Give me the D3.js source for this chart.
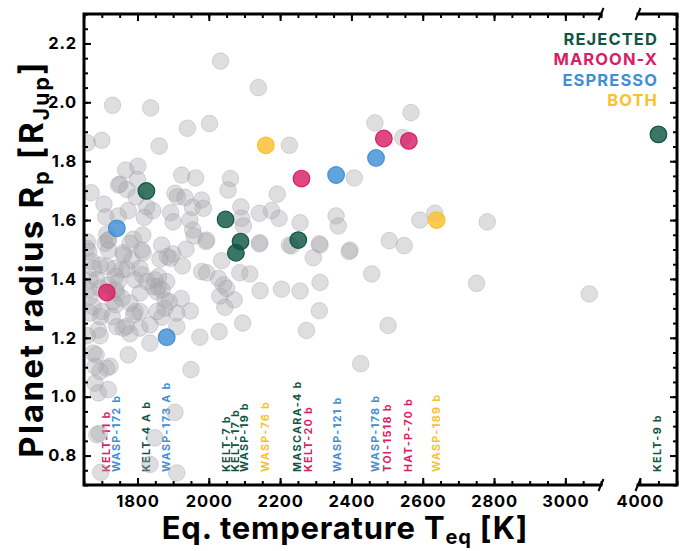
<!DOCTYPE html>
<html>
<head>
<meta charset="utf-8">
<script src="https://cdn.jsdelivr.net/npm/d3@7"></script>
<style>
  body { margin: 0; background: #fff; }
  svg { display: block; font-family: Inter, "DejaVu Sans", sans-serif; font-weight: 700; }
</style>
</head>
<body>
<svg id="chart" width="686" height="551"></svg>
<script>
// grey background population: equilibrium temperature [K] and radius [R_Jup]
const greyTeq = [2033,2139,1730,1837,1940,2002,1700,1659,1861,2226,2466,1767,1801,1751,1800,1770,1670,1796,1706,1711,
  1774,1826,1843,1819,1746,1924,1963,2061,2054,1905,1912,1933,1980,1954,1985,1893,1900,1947,1955,1959,
  1994,1868,1788,1815,1714,1718,1659,2090,2092,2097,2142,2176,2197,2192,2143,2256,2226,2312,2357,2363,
  2408,2396,2567,2544,2592,2634,2781,2506,2548,2457,2751,3067,2503,2310,2394,2293,2312,2310,2274,2426,
  2256,2204,2144,2232,2142,2115,2087,2095,2029,1975,1950,2071,2045,2031,2050,2041,2027,2036,1980,1994,
  1992,1936,1926,1910,1910,1905,1910,1849,1835,1884,1899,1863,1774,1684,1681,1714,1723,1681,1690,1718,
  1693,1697,1835,1779,1807,1760,1742,1690,1695,1659,1868,1877,1854,1858,1849,1882,1877,1854,1835,1807,
  1793,1779,1807,1812,1816,1760,1784,1807,1770,1756,1737,1714,1695,1672,1667,1667,1676,1667,1732,1742,
  1718,1695,1746,1709,1718,1779,1658,1719,1663,1761,1892,1948,1923,1859,1889,1677,1738,1686,1663,1738,
  1757,1738,1700,1696,1729,1789,1769,1793,1813,1827,1845,1869,1747,1676,1695,1686];
const greyR = [2.140,2.050,1.990,1.981,1.912,1.928,1.871,1.862,1.851,1.854,1.930,1.770,1.783,1.722,1.738,1.704,1.693,1.679,1.654,1.611,
  1.632,1.645,1.632,1.609,1.614,1.753,1.743,1.741,1.702,1.691,1.679,1.677,1.668,1.643,1.640,1.625,1.594,1.600,1.566,1.546,
  1.532,1.515,1.535,1.549,1.552,1.532,1.526,1.645,1.606,1.580,1.623,1.632,1.606,1.688,1.523,1.591,1.515,1.515,1.614,1.580,
  1.743,1.498,1.965,1.880,1.600,1.623,1.594,1.530,1.513,1.417,1.385,1.349,1.242,1.519,1.493,1.472,1.388,1.292,1.225,1.112,
  1.359,1.365,1.360,1.512,1.519,1.417,1.421,1.250,1.221,1.202,1.092,1.329,1.304,1.342,1.368,1.380,1.402,1.462,1.425,1.421,
  1.527,1.501,1.444,1.284,1.238,0.947,0.741,0.860,0.770,1.476,1.485,1.467,1.142,1.142,1.103,1.097,1.103,1.046,1.013,1.024,
  0.875,0.743,1.182,1.214,1.233,1.233,1.238,1.227,1.207,1.207,1.270,1.329,1.357,1.374,1.397,1.391,1.301,1.289,1.244,1.289,
  1.289,1.318,1.352,1.498,1.489,1.489,1.464,1.436,1.433,1.431,1.436,1.442,1.447,1.459,1.397,1.340,1.306,1.284,1.323,1.352,
  1.380,1.369,1.391,1.521,1.532,1.521,1.504,1.498,1.493,1.482,1.470,1.291,1.333,1.408,1.323,1.436,1.408,1.397,1.363,1.363,
  1.335,1.312,1.289,1.272,1.272,1.278,1.238,1.397,1.414,1.391,1.374,1.363,1.719,1.148,1.086,0.871];

// highlighted planets
const planetNames = ["KELT-11 b","WASP-172 b","KELT-4 A b","WASP-173 A b","KELT-7 b","KELT-17 b","WASP-19 b","WASP-76 b",
  "MASCARA-4 b","KELT-20 b","WASP-121 b","WASP-178 b","TOI-1518 b","HAT-P-70 b","WASP-189 b","KELT-9 b"];
const planetGroup = ["MAROON-X","ESPRESSO","REJECTED","ESPRESSO","REJECTED","REJECTED","REJECTED","BOTH",
  "REJECTED","MAROON-X","ESPRESSO","ESPRESSO","MAROON-X","MAROON-X","BOTH","REJECTED"];
const planetTeq = [1714,1742,1825,1882,2047,2089,2076,2160,2251,2260,2357,2469,2491,2561,2639,4050];
const planetR = [1.354,1.572,1.699,1.202,1.602,1.527,1.489,1.854,1.532,1.741,1.753,1.811,1.877,1.869,1.600,1.891];
const labelTeq = [1712,1740,1823,1880,2047,2073,2099,2158,2247,2278,2359,2466,2499,2558,2636,4047];

const groups = ["REJECTED","MAROON-X","ESPRESSO","BOTH"];
const groupColors = ["#0f5744","#d81e66","#3f8ed6","#fbc02d"];

const leftTicks = [1800,2000,2200,2400,2600,2800,3000];
const rightTicks = [4000];
const yTicks = [0.8,1.0,1.2,1.4,1.6,1.8,2.0,2.2];

const svg = d3.select("#chart");
const yTop = 14, yBot = 485;
const xL = d3.scaleLinear().domain([1650, 3100]).range([84, 601]);
const xR = d3.scaleLinear().domain([3995, 4100]).range([638, 677]);
const y = d3.scaleLinear().domain([0.7, 2.3]).range([yBot, yTop]);
const color = d3.scaleOrdinal().domain(groups).range(groupColors);
const xOf = t => t > 3500 ? xR(t) : xL(t);

const defs = svg.append("defs");
defs.append("clipPath").attr("id", "clipL").append("rect")
  .attr("x", 84).attr("y", yTop).attr("width", 601 - 84).attr("height", yBot - yTop);
defs.append("clipPath").attr("id", "clipR").append("rect")
  .attr("x", 638).attr("y", yTop).attr("width", 677 - 638).attr("height", yBot - yTop);

// planet labels
const labels = svg.append("g").attr("font-size", 10.8).attr("letter-spacing", 1.3);
planetNames.forEach((n, i) => {
  labels.append("text")
    .attr("transform", `translate(${xOf(labelTeq[i]) + 4},472) rotate(-90)`)
    .attr("fill", color(planetGroup[i]))
    .text(n);
});

// grey points
const greyData = greyTeq.map((t, i) => ({ t, r: greyR[i] }));
svg.append("g").attr("clip-path", "url(#clipL)")
  .selectAll("circle").data(greyData).enter().append("circle")
  .attr("cx", d => xL(d.t)).attr("cy", d => y(d.r)).attr("r", 8.3)
  .attr("fill", "#a8a8ad").attr("fill-opacity", 0.38)
  .attr("stroke", "#9a9aa0").attr("stroke-opacity", 0.35).attr("stroke-width", 1);

// highlighted points
const hl = planetNames.map((n, i) => ({ n, g: planetGroup[i], t: planetTeq[i], r: planetR[i] }));
["clipL", "clipR"].forEach(c => {
  svg.append("g").attr("clip-path", `url(#${c})`)
    .selectAll("circle").data(hl.filter(d => (c === "clipR") === (d.t > 3500))).enter().append("circle")
    .attr("cx", d => xOf(d.t)).attr("cy", d => y(d.r)).attr("r", 8.3)
    .attr("fill", d => color(d.g)).attr("fill-opacity", 0.82)
    .attr("stroke", d => color(d.g)).attr("stroke-width", 1.2);
});

// axes
const minorL = d3.range(1650, 3101, 50);
const minorR = d3.range(4000, 4101, 50);
const minorY = d3.range(0.7, 2.301, 0.05).map(v => +v.toFixed(2));

function tickAxis(axis, scale, vals, size, pos, fmt) {
  const g = svg.append("g").attr("transform", pos)
    .call(axis(scale).tickValues(vals).tickSize(size).tickSizeOuter(0).tickPadding(7)
      .tickFormat(fmt || ""));
  g.select(".domain").remove();
  g.selectAll(".tick line").attr("stroke", "#000").attr("stroke-width", 2);
  g.selectAll("text").attr("font-family", "Inter, sans-serif").attr("font-weight", 700)
    .attr("font-size", 16.5).attr("letter-spacing", 0.8).attr("fill", "#000");
  return g;
}
tickAxis(d3.axisBottom, xL, minorL, -4, `translate(0,${yBot})`);
tickAxis(d3.axisBottom, xL, leftTicks, -7, `translate(0,${yBot})`, d3.format("d"))
  .selectAll("text").attr("dy", "0.71em").attr("y", 10);
tickAxis(d3.axisTop, xL, minorL, -4, `translate(0,${yTop})`);
tickAxis(d3.axisTop, xL, leftTicks, -7, `translate(0,${yTop})`);
tickAxis(d3.axisBottom, xR, minorR.slice(1), -4, `translate(0,${yBot})`);
tickAxis(d3.axisBottom, xR, rightTicks, -7, `translate(0,${yBot})`, d3.format("d"))
  .selectAll("text").attr("dy", "0.71em").attr("y", 10);
tickAxis(d3.axisTop, xR, minorR.slice(1), -4, `translate(0,${yTop})`);
tickAxis(d3.axisLeft, y, minorY, -4, "translate(84,0)");
tickAxis(d3.axisLeft, y, yTicks, -7, "translate(84,0)", d3.format(".1f"))
  .selectAll("text").attr("x", -7);
tickAxis(d3.axisRight, y, minorY, -4, "translate(677,0)");
tickAxis(d3.axisRight, y, yTicks, -7, "translate(677,0)");

// frame with broken x axis
const frame = svg.append("g").attr("fill", "none").attr("stroke", "#000").attr("stroke-width", 3);
frame.append("path").attr("d", `M601,${yTop}H84V${yBot}H601`).attr("stroke-linecap", "square");
frame.append("path").attr("d", `M638,${yTop}H677V${yBot}H638`).attr("stroke-linecap", "square");
[601, 638].forEach(x => {
  [yTop, yBot].forEach(yy => {
    frame.append("line").attr("x1", x - 2.5).attr("y1", yy + 6).attr("x2", x + 2.5).attr("y2", yy - 6)
      .attr("stroke-width", 2);
  });
});

// legend
const legend = svg.append("g").attr("text-anchor", "end").attr("font-size", 16.5).attr("letter-spacing", 1.1);
groups.forEach((g, i) => {
  legend.append("text").attr("x", 658).attr("y", 45 + i * 20.3).attr("fill", color(g)).text(g);
});

// axis titles
const xt = svg.append("text").attr("x", 345).attr("y", 539).attr("text-anchor", "middle")
  .attr("font-size", 31).attr("letter-spacing", 0.8).attr("fill", "#000");
xt.append("tspan").text("Eq. temperature T");
xt.append("tspan").attr("font-size", 20).attr("dy", 5).text("eq");
xt.append("tspan").attr("dy", -5).text(" [K]");

const yt = svg.append("text").attr("transform", "translate(43,259) rotate(-90)").attr("text-anchor", "middle")
  .attr("font-size", 33).attr("letter-spacing", 2.2).attr("fill", "#000");
yt.append("tspan").text("Planet radius R");
yt.append("tspan").attr("font-size", 21).attr("dy", 6).text("p");
yt.append("tspan").attr("dy", -6).text(" [R");
yt.append("tspan").attr("font-size", 21).attr("dy", 6).text("Jup");
yt.append("tspan").attr("dy", -6).text("]");
</script>
</body>
</html>
